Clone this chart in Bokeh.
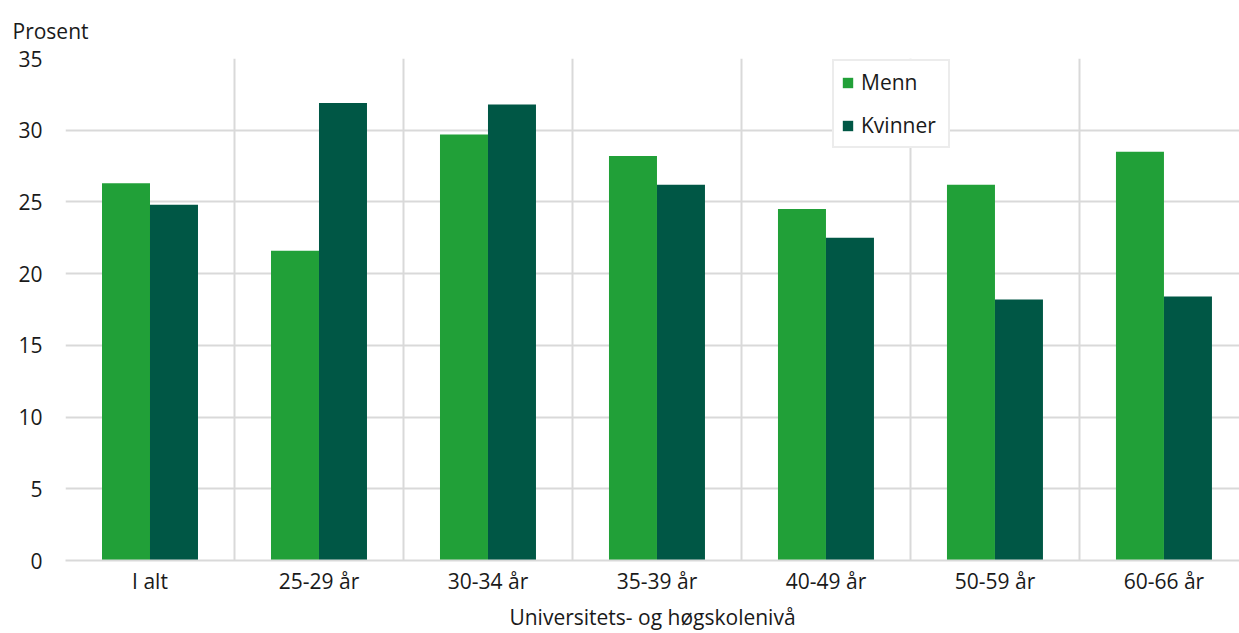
import numpy as np
from bokeh.plotting import figure
from bokeh.models import ColumnDataSource, Range1d, FixedTicker, Legend, LegendItem, Title
from bokeh.embed import file_html
from bokeh.resources import INLINE

categories = ["I alt", "25-29 år", "30-34 år", "35-39 år", "40-49 år", "50-59 år", "60-66 år"]
menn = [26.3, 21.6, 29.7, 28.2, 24.5, 26.2, 28.5]
kvinner = [24.8, 31.9, 31.8, 26.2, 22.5, 18.2, 18.4]
y_ticks = [0, 5, 10, 15, 20, 25, 30, 35]

FONT = "Open Sans"
FS = "21px"
GRID = "#d9d9d9"
C_MENN = "#21a038"
C_KV = "#005745"
TXT = "#1a1a1a"

centers = np.arange(len(categories)) + 0.5
bw = 0.284
src = ColumnDataSource(dict(
    xm=centers - bw / 2, xk=centers + bw / 2, menn=menn, kvinner=kvinner))

p = figure(width=1239, height=633, output_backend="svg", toolbar_location=None,
           x_range=Range1d(0, 6.947), y_range=Range1d(0, 35),
           min_border_left=65, min_border_right=0, min_border_top=57, min_border_bottom=0)
p.outline_line_color = None

r1 = p.vbar(x="xm", top="menn", width=bw, source=src, color=C_MENN, line_color=None)
r2 = p.vbar(x="xk", top="kvinner", width=bw, source=src, color=C_KV, line_color=None)

# axes
p.xaxis.ticker = FixedTicker(ticks=list(centers))
p.xaxis.major_label_overrides = {float(c): lab for c, lab in zip(centers, categories)}
p.xaxis.major_tick_line_color = None
p.xaxis.minor_tick_line_color = None
p.xaxis.axis_line_color = GRID
p.xaxis.axis_line_width = 2
p.xaxis.major_label_text_font = FONT
p.xaxis.major_label_text_font_size = FS
p.xaxis.major_label_text_color = TXT
p.xaxis.major_label_standoff = 0
p.xaxis.axis_label = "Universitets- og høgskolenivå"
p.xaxis.axis_label_text_font = FONT
p.xaxis.axis_label_text_font_size = FS
p.xaxis.axis_label_text_font_style = "normal"
p.xaxis.axis_label_text_color = TXT
p.xaxis.axis_label_standoff = 5

p.yaxis.ticker = FixedTicker(ticks=y_ticks)
p.yaxis.major_tick_line_color = None
p.yaxis.minor_tick_line_color = None
p.yaxis.axis_line_color = None
p.yaxis.major_label_text_font = FONT
p.yaxis.major_label_text_font_size = FS
p.yaxis.major_label_text_color = TXT
p.yaxis.major_label_standoff = 17

# grids
p.xgrid.ticker = FixedTicker(ticks=list(range(len(categories) + 1)))
p.xgrid.grid_line_color = GRID
p.xgrid.grid_line_width = 2
p.ygrid.ticker = FixedTicker(ticks=y_ticks[1:])
p.ygrid.grid_line_color = GRID
p.ygrid.grid_line_width = 2

# unit label "Prosent"
t = Title(text="Prosent", align="left", text_font=FONT, text_font_size=FS,
          text_font_style="normal", text_color=TXT, offset=-53)
if "standoff" in Title.properties():
    t.standoff = 28
p.add_layout(t, "above")

legend = Legend(items=[LegendItem(label="Menn", renderers=[r1]),
                       LegendItem(label="Kvinner", renderers=[r2])],
                location=(767, 412), orientation="vertical",
                label_text_font=FONT, label_text_font_size=FS, label_text_color=TXT,
                glyph_width=13, glyph_height=13, spacing=15, label_height=24,
                label_width=80, padding=7, margin=0, label_standoff=7,
                border_line_color=GRID, border_line_width=2, background_fill_color="white",
                background_fill_alpha=1)
p.add_layout(legend, "center")

open("out.html", "w").write(file_html(p, INLINE))
